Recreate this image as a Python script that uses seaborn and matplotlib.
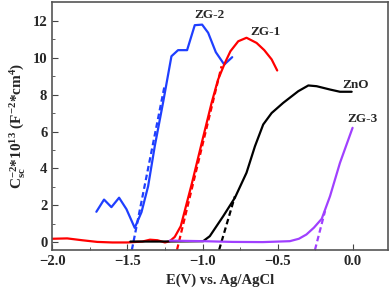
import numpy as np
import seaborn as sns
import matplotlib.pyplot as plt

sns.set_style('ticks')
plt.rcParams['font.family'] = ['Liberation Serif', 'DejaVu Serif']
plt.rcParams['font.weight'] = 'bold'
plt.rcParams['mathtext.fontset'] = 'custom'
plt.rcParams['mathtext.rm'] = 'Liberation Serif:bold'
plt.rcParams['mathtext.it'] = 'Liberation Serif:bold'
plt.rcParams['mathtext.bf'] = 'Liberation Serif:bold'

# ZG-2 (blue)
zg2_x = [-1.706, -1.655, -1.606, -1.555, -1.506, -1.451, -1.406, -1.362, -1.318, -1.263, -1.207,
         -1.163, -1.103, -1.052, -1.003, -0.963, -0.912, -0.856, -0.803]
zg2_y = [1.66, 2.32, 1.91, 2.42, 1.80, 0.79, 1.64, 3.04, 5.2, 7.55, 10.07,
         10.4, 10.4, 11.75, 11.78, 11.34, 10.29, 9.62, 10.02]
# ZG-1 (red)
zg1_x = [-2.0, -1.9, -1.8, -1.7, -1.6, -1.5, -1.4, -1.35, -1.3, -1.25, -1.218, -1.185, -1.145,
         -1.07, -1.0, -0.94, -0.897, -0.852, -0.815, -0.763, -0.708, -0.641, -0.59,
         -0.541, -0.504]
zg1_y = [0.2, 0.22, 0.12, 0.03, 0.0, 0.0, 0.05, 0.15, 0.12, 0.0, 0.07, 0.3, 0.88,
         3.23, 5.57, 7.55, 8.81, 9.7, 10.34, 10.88, 11.07, 10.79, 10.4,
         9.9, 9.3]
# ZnO (black)
zno_x = [-1.48, -1.3, -1.1, -0.996, -0.952, -0.863, -0.785, -0.708, -0.652, -0.597, -0.541,
         -0.464, -0.364, -0.297, -0.242, -0.153, -0.087, -0.009]
zno_y = [0.05, 0.05, 0.06, 0.07, 0.34, 1.42, 2.42, 3.77, 5.2, 6.38, 7.0,
         7.55, 8.18, 8.49, 8.45, 8.27, 8.15, 8.15]
# ZG-3 (purple)
zg3_x = [-1.218, -1.0, -0.8, -0.6, -0.42, -0.36, -0.31, -0.26, -0.208, -0.153, -0.087, -0.003]
zg3_y = [0.1, 0.07, 0.03, 0.02, 0.07, 0.2, 0.43, 0.8, 1.28, 2.5, 4.3, 6.2]

# linear fits extrapolated to the potential axis
fit2_x, fit2_y = [-1.470, -1.251], [-0.4, 8.54]
fit1_x, fit1_y = [-1.17, -0.874], [-0.4, 9.53]
fitzno_x, fitzno_y = [-0.89, -0.785], [-0.4, 2.5]
fit3_x, fit3_y = [-0.253, -0.186], [-0.4, 1.7]

labels = ['ZG-2', 'ZG-1', 'ZnO', 'ZG-3']
label_x = [-0.957, -0.585, 0.018, 0.062]
label_y = [12.3, 11.4, 8.54, 6.65]

fig = plt.figure(figsize=(3.92, 2.95), dpi=100)
ax = fig.add_axes([0.133, 0.153, 0.857, 0.84])

series = [(zg2_x, zg2_y, fit2_x, fit2_y, '#1f3fff'),
          (zg1_x, zg1_y, fit1_x, fit1_y, '#ff0000'),
          (zno_x, zno_y, fitzno_x, fitzno_y, 'black'),
          (zg3_x, zg3_y, fit3_x, fit3_y, '#a040ff')]
for x, y, fx, fy, c in series:
    sns.lineplot(x=x, y=y, ax=ax, color=c, lw=1.6, sort=False, estimator=None)
    sns.lineplot(x=fx, y=fy, ax=ax, color=c, lw=1.6, ls=(0, (2.5, 1.5)), sort=False, estimator=None)

for t, x, y in zip(labels, label_x, label_y):
    ax.text(x, y, t, ha='center', va='center', fontsize=9.5, fontweight='bold')

ax.set_xlim(-2.0, 0.233)
ax.set_ylim(-0.4, 13.0)
ax.set_xticks([-2.0, -1.5, -1.0, -0.5, 0.0])
ax.set_xticks(np.arange(-1.75, 0.2, 0.5), minor=True)
ax.set_yticks([0, 2, 4, 6, 8, 10, 12])
ax.set_yticks([1, 3, 5, 7, 9, 11], minor=True)
ax.tick_params(which='both', direction='in', labelsize=10.5, color='#444444')
ax.tick_params(which='major', length=4)
ax.tick_params(which='minor', length=2)
for s in ax.spines.values():
    s.set_color('#555555')
    s.set_linewidth(1.2)

ax.set_xlabel('E(V) vs. Ag/AgCl', fontsize=10.5, fontweight='bold')
ax.set_ylabel(r'C$_{sc}^{-2}$*10$^{13}$ (F$^{-2}$*cm$^{4}$)', fontsize=11, fontweight='bold')

fig.savefig('out.png', dpi=100)
